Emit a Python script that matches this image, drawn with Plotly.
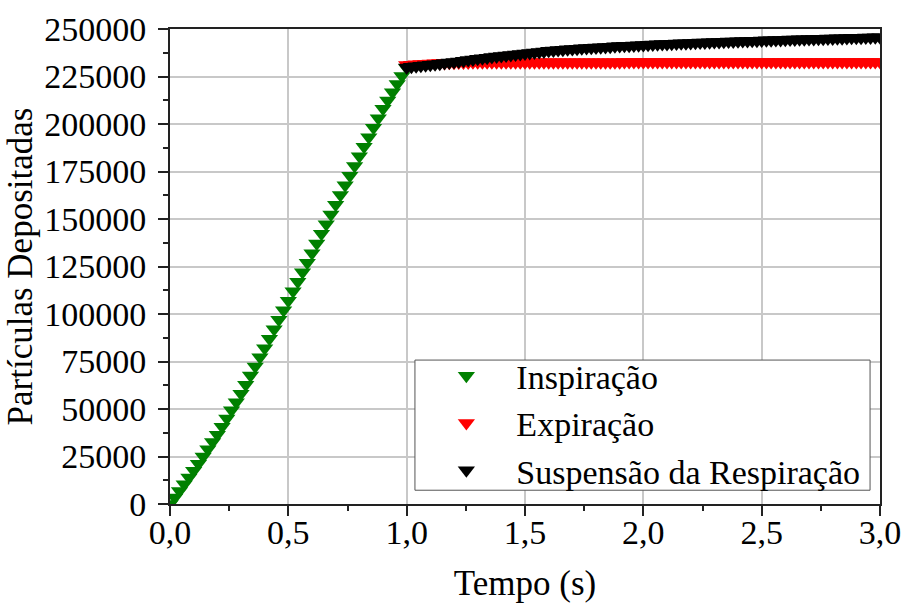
import plotly.graph_objects as go

# ---- data ----
t_insp = [round(0.02 * i, 2) for i in range(51)]
inspiracao = [
    0, 3400, 6900, 10400, 13900, 17500, 21200, 25000, 28800, 32600,
    36500, 40700, 45000, 49300, 53600, 58000, 62800, 67600, 72400, 77200,
    82000, 87000, 92000, 97000, 102000, 107000, 112000, 117000, 122000, 127000,
    132000, 137100, 142200, 147300, 152400, 157500, 162600, 167700, 172800, 177900,
    183000, 188000, 193000, 198000, 203000, 208000, 212400, 216700, 221000, 225300,
    229500,
]

t_post = [round(1.0 + 0.02 * i, 2) for i in range(101)]
expiracao = [
    231000, 231200, 231400, 231550, 231700, 231850, 231950, 232050, 232150, 232230,
    232300, 232350, 232390, 232420, 232440, 232460, 232470, 232480, 232490, 232500,
    232500, 232500, 232510, 232510, 232510, 232520, 232520, 232520, 232530, 232530,
    232530, 232530, 232540, 232540, 232540, 232540, 232550, 232550, 232550, 232550,
    232550, 232560, 232560, 232560, 232560, 232560, 232570, 232570, 232570, 232570,
    232570, 232570, 232580, 232580, 232580, 232580, 232580, 232580, 232590, 232590,
    232590, 232590, 232590, 232590, 232590, 232600, 232600, 232600, 232600, 232600,
    232600, 232600, 232600, 232610, 232610, 232610, 232610, 232610, 232610, 232610,
    232610, 232610, 232620, 232620, 232620, 232620, 232620, 232620, 232620, 232620,
    232620, 232620, 232630, 232630, 232630, 232630, 232630, 232630, 232630, 232630,
    232630,
]
suspensao = [
    229800, 230080, 230360, 230640, 230920, 231200, 231480, 231760, 232040, 232320,
    232600, 232940, 233280, 233620, 233960, 234300, 234600, 234900, 235200, 235500,
    235800, 236060, 236320, 236580, 236840, 237100, 237380, 237660, 237940, 238220,
    238500, 238700, 238900, 239100, 239300, 239500, 239660, 239820, 239980, 240140,
    240300, 240440, 240580, 240720, 240860, 241000, 241120, 241240, 241360, 241480,
    241600, 241710, 241820, 241930, 242040, 242150, 242250, 242350, 242450, 242550,
    242650, 242740, 242830, 242920, 243010, 243100, 243190, 243280, 243370, 243460,
    243550, 243630, 243710, 243790, 243870, 243950, 244030, 244110, 244190, 244270,
    244350, 244420, 244490, 244560, 244630, 244700, 244770, 244840, 244910, 244980,
    245050, 245120, 245190, 245260, 245330, 245400, 245460, 245520, 245580, 245640,
    245700,
]

series_names = ["Inspiração", "Expiração", "Suspensão da Respiração"]
x_ticks = [0.0, 0.5, 1.0, 1.5, 2.0, 2.5, 3.0]
y_ticks = [0, 25000, 50000, 75000, 100000, 125000, 150000, 175000, 200000, 225000, 250000]

FONT = "Liberation Serif"
MSIZE = 15

fig = go.Figure()
for name, xs, ys, col in [
    (series_names[0], t_insp, inspiracao, "#008000"),
    (series_names[1], t_post, expiracao, "#ff0000"),
    (series_names[2], t_post, suspensao, "#000000"),
]:
    fig.add_trace(go.Scatter(
        x=xs, y=ys, mode="markers", name=name,
        marker=dict(symbol="triangle-down", size=MSIZE, color=col, line=dict(width=0)),
        cliponaxis=True,
    ))

axis_common = dict(
    showline=True, linecolor="#222222", linewidth=2, mirror=True,
    showgrid=True, gridcolor="#c8c8c8", gridwidth=2,
    ticks="outside", ticklen=10, tickwidth=2, tickcolor="#222222",
    zeroline=False, automargin=False,
    tickfont=dict(family=FONT, size=34, color="black"),
)

fig.update_xaxes(
    range=[0, 3], tickvals=x_ticks, tickformat=".1f",
    minor=dict(ticks="outside", ticklen=5, tickwidth=2, tickcolor="#222222", dtick=0.25, showgrid=False),
    title=dict(text="Tempo (s)", font=dict(family=FONT, size=35, color="black"), standoff=30),
    ticklabelstandoff=-13,
    **axis_common,
)
fig.update_yaxes(
    range=[0, 250000], tickvals=y_ticks, tickformat="d",
    minor=dict(ticks="outside", ticklen=5, tickwidth=2, tickcolor="#222222", dtick=12500, showgrid=False),
    title=dict(text="Partículas Depositadas", font=dict(family=FONT, size=35, color="black"), standoff=1),
    ticklabelstandoff=5,
    **axis_common,
)

# legend frame (paper coordinates)
fig.add_shape(
    type="rect", xref="paper", yref="paper",
    x0=0.345, x1=0.986, y0=0.029, y1=0.303,
    fillcolor="white", line=dict(color="#555555", width=1), layer="above",
)

fig.update_layout(
    width=902, height=603,
    margin=dict(l=170, r=22, t=29, b=99),
    paper_bgcolor="white", plot_bgcolor="white",
    separators=",.",
    font=dict(family=FONT, color="black"),
    showlegend=True,
    legend=dict(
        x=0.347, y=0.010, xanchor="left", yanchor="bottom",
        bgcolor="rgba(0,0,0,0)", borderwidth=0,
        font=dict(family=FONT, size=34, color="black"),
        itemwidth=90, tracegroupgap=0,
    ),
)

fig.write_html("out.html")
